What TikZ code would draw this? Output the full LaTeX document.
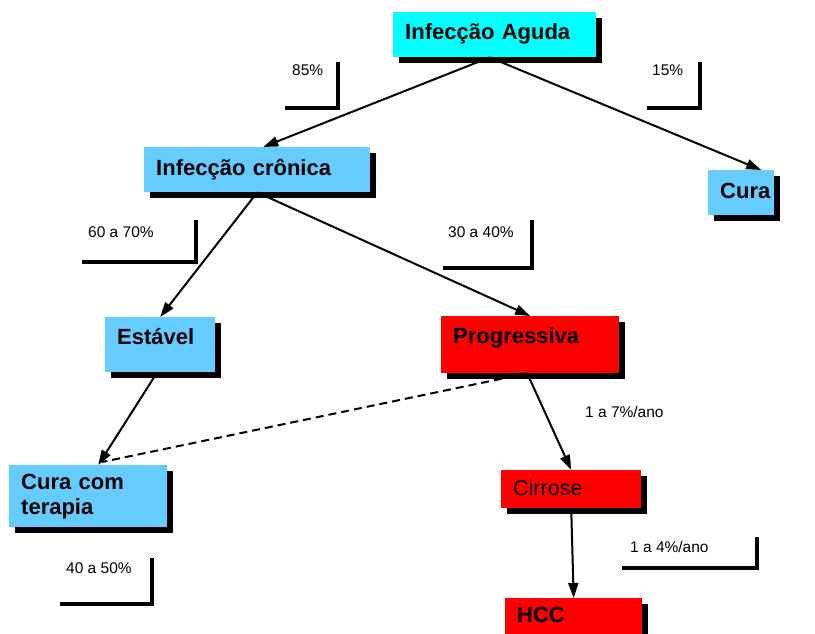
\documentclass[tikz,border=0pt]{standalone}
\usepackage{fontspec}
\setmainfont{Liberation Sans}
\usetikzlibrary{arrows.meta,shadows,calc}
\definecolor{cyanbox}{RGB}{0,255,255}
\definecolor{bluebox}{RGB}{102,204,255}
\definecolor{redbox}{RGB}{255,0,0}
\begin{document}
\begin{tikzpicture}[x=1pt,y=-1pt,
  box/.style={draw=none, anchor=north west, inner xsep=12pt, inner ysep=0pt, align=left,
    font=\fontsize{22}{25}\selectfont\bfseries,
    drop shadow={shadow xshift=6pt,shadow yshift=-6pt,opacity=1,fill=black}},
  conn/.style={line width=2pt, -{Triangle[length=15pt,width=10pt]}},
  dashline/.style={line width=2pt, dash pattern=on 8pt off 5pt},
  lbl/.style={anchor=base west, inner sep=0pt, font=\fontsize{15.5}{18}\selectfont},
  brk/.style={line width=3.8pt}]
\useasboundingbox (0,0) rectangle (815,634);
\clip (0,0) rectangle (815,634);

% boxes
\node[box, fill=cyanbox, text width=179pt, text height=27pt, text depth=18pt] (ag) at (393,12) {Infecção Aguda};
\node[box, fill=bluebox, text width=202pt, text height=28pt, text depth=17pt] (cr) at (144,147) {Infecção crônica};
\node[box, fill=bluebox, text width=42pt, text height=28pt, text depth=17pt] (cura) at (708,170) {Cura};
\node[box, fill=bluebox, text width=86pt, text height=27pt, text depth=28pt] (es) at (105,317) {Estável};
\node[box, fill=redbox, text width=154pt, text height=27pt, text depth=30pt] (pr) at (441,316) {Progressiva};
\node[box, fill=bluebox, text width=134pt, minimum height=62pt] (cct) at (9,465) {Cura com\\terapia};
\node[box, fill=redbox, font=\fontsize{21.5}{25}\selectfont, text width=116pt, text height=25pt, text depth=13pt] (ci) at (501,470) {Cirrose};
\node[box, fill=redbox, text width=113pt, text height=24pt, text depth=21pt] (hcc) at (505,598) {HCC};

% labels
\node[lbl] (l85) at (292,76) {85\%};
\node[lbl] (l15) at (652,76) {15\%};
\node[lbl] (l6070) at (88,237) {60 a 70\%};
\node[lbl] (l3040) at (448,237) {30 a 40\%};
\node[lbl] (l17) at (585,417) {1 a 7\%/ano};
\node[lbl] (l14) at (630,552) {1 a 4\%/ano};
\node[lbl] (l4050) at (66,573) {40 a 50\%};

% brackets
\draw[brk] (285,108) -- (338,108) -- (338,62);
\draw[brk] (647,108) -- (700,108) -- (700,62);
\draw[brk] (82,262) -- (196,262) -- (196,220);
\draw[brk] (443,268) -- (532,268) -- (532,220);
\draw[brk] (622,568) -- (757,568) -- (757,537);
\draw[brk] (60,604) -- (152,604) -- (152,558);

% connectors
\draw[conn] ($(ag.south)+(-5,0)$) -- ($(cr.north)+(6,0)$);
\draw[conn] ($(ag.south)+(-5,0)$) -- ($(cura.north)+(20,0)$);
\draw[conn] (cr.south) -- (es.north);
\draw[conn] (cr.south) -- (pr.north);
\draw[conn] ($(es.south)+(-3,0)$) -- ($(cct.north)+(10,0)$);
\draw[dashline] ($(pr.south)+(-3,0)$) -- ($(cct.north)+(14,-3)$);
\draw[conn] ($(pr.south)+(-3,0)$) -- (ci.north);
\draw[conn] (ci.south) -- (hcc.north);
\end{tikzpicture}
\end{document}
